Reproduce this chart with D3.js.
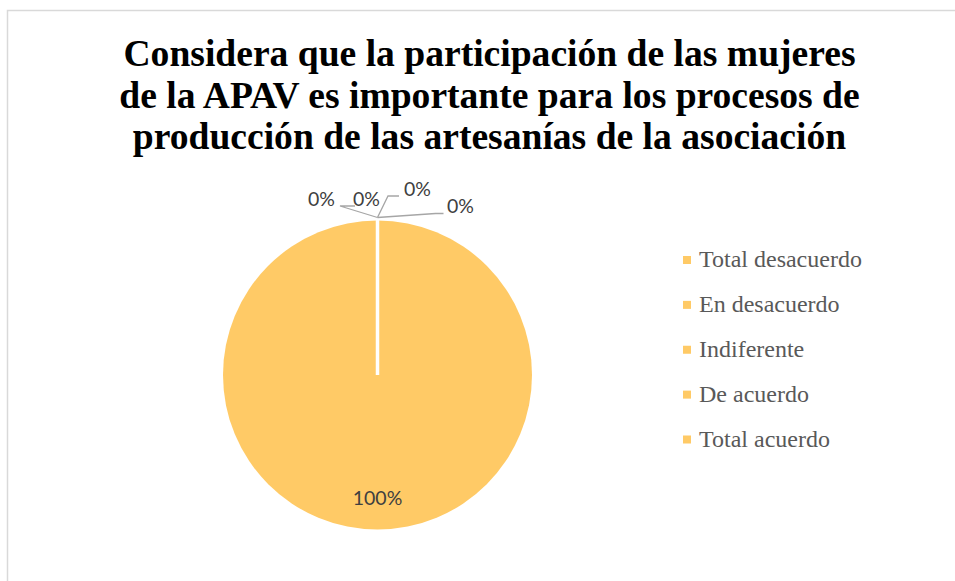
<!DOCTYPE html>
<html>
<head>
<meta charset="utf-8">
<script src="https://cdn.jsdelivr.net/npm/d3@7"></script>
<style>
  html, body { margin: 0; padding: 0; background: #ffffff; }
  svg { display: block; }
</style>
</head>
<body>
<script>
// ---- data ----
const titleLines = [
  "Considera que la participación de las mujeres",
  "de la APAV es importante para los procesos de",
  "producción de las artesanías de la asociación"
];
const categories = ["Total desacuerdo", "En desacuerdo", "Indiferente", "De acuerdo", "Total acuerdo"];
const values = [0, 0, 0, 0, 100];
const colors = ["#FFCA66", "#FFCA66", "#FFCA66", "#FFCA66", "#FFCA66"];

// ---- layout ----
const W = 955, H = 581;
const svg = d3.select("body").append("svg").attr("width", W).attr("height", H);

// chart border
svg.append("rect")
  .attr("x", 7.5).attr("y", 10.5).attr("width", 1000).attr("height", 1000)
  .attr("fill", "#fff").attr("stroke", "#d9d9d9").attr("stroke-width", 1.5);

// title
const titleBase = [66, 108, 149];
svg.append("g").selectAll("text").data(titleLines).join("text")
  .attr("x", 489.5).attr("y", (d, i) => titleBase[i])
  .attr("text-anchor", "middle")
  .attr("font-family", "'Liberation Serif', 'Times New Roman', serif")
  .attr("font-weight", "bold").attr("font-size", 37.6)
  .attr("fill", "#000")
  .text(d => d);

// pie
const cx = 377.5, cy = 375, r = 154.5;
const total = d3.sum(values);
const pie = d3.pie().sort(null).value(d => d)(values);
const arc = d3.arc().innerRadius(0).outerRadius(r);
const g = svg.append("g").attr("transform", `translate(${cx},${cy})`);
g.selectAll("path.slice").data(pie).join("path")
  .attr("class", "slice")
  .attr("d", arc)
  .attr("fill", (d, i) => colors[i]);
// white slice borders (radial edges)
g.selectAll("line.edge").data(pie.filter(d => d.data > 0)).join("line")
  .attr("class", "edge")
  .attr("x1", 0).attr("y1", 0)
  .attr("x2", d => Math.sin(d.startAngle) * (r + 1))
  .attr("y2", d => -Math.cos(d.startAngle) * (r + 1))
  .attr("stroke", "#fff").attr("stroke-width", 3.5);

const fmt = v => d3.format(".0%")(v / total);

// labels for zero slices (outside with leader lines)
const zeroLayout = [
  { dx: -56, dy: -169, line: [[-37.5, -169], [-22.5, -169]] },
  { dx: -11, dy: -169, line: null },
  { dx: 40, dy: -179, line: [[10.5, -179], [21.5, -179]] },
  { dx: 83, dy: -162, line: [[58, -161.5], [66, -161.5]] }
];
let zi = 0;
pie.forEach((d, i) => {
  if (d.data === 0) {
    const L = zeroLayout[zi++ % zeroLayout.length];
    const a = d.startAngle;
    const ax = Math.sin(a) * (r + 3), ay = -Math.cos(a) * (r + 3);
    if (L.line) {
      g.append("path")
        .attr("d", d3.line()([[ax, ay], L.line[0], L.line[1]]))
        .attr("fill", "none").attr("stroke", "#a6a6a6").attr("stroke-width", 1.3);
    }
    g.append("text")
      .attr("x", L.dx).attr("y", L.dy)
      .attr("text-anchor", "middle")
      .attr("font-family", "Lato, 'Open Sans', sans-serif")
      .attr("font-size", 19.5).attr("fill", "#404040")
      .text(fmt(d.data));
  } else {
    g.append("text")
      .attr("x", 0).attr("y", 130)
      .attr("text-anchor", "middle")
      .attr("font-family", "Lato, 'Open Sans', sans-serif")
      .attr("font-size", 19.5).attr("fill", "#404040")
      .text(fmt(d.data));
  }
});

// legend
const leg = svg.append("g").attr("transform", "translate(683,0)");
const legY = d3.scalePoint().domain(categories).range([267, 446.5]);
const items = leg.selectAll("g").data(categories).join("g")
  .attr("transform", d => `translate(0,${legY(d)})`);
items.append("rect").attr("x", 0).attr("y", -11).attr("width", 8).attr("height", 8)
  .attr("fill", (d, i) => colors[i]);
items.append("text").attr("x", 16).attr("y", 0)
  .attr("font-family", "'Liberation Serif', 'Times New Roman', serif")
  .attr("font-size", 24).attr("fill", "#595959")
  .text(d => d);
</script>
</body>
</html>
